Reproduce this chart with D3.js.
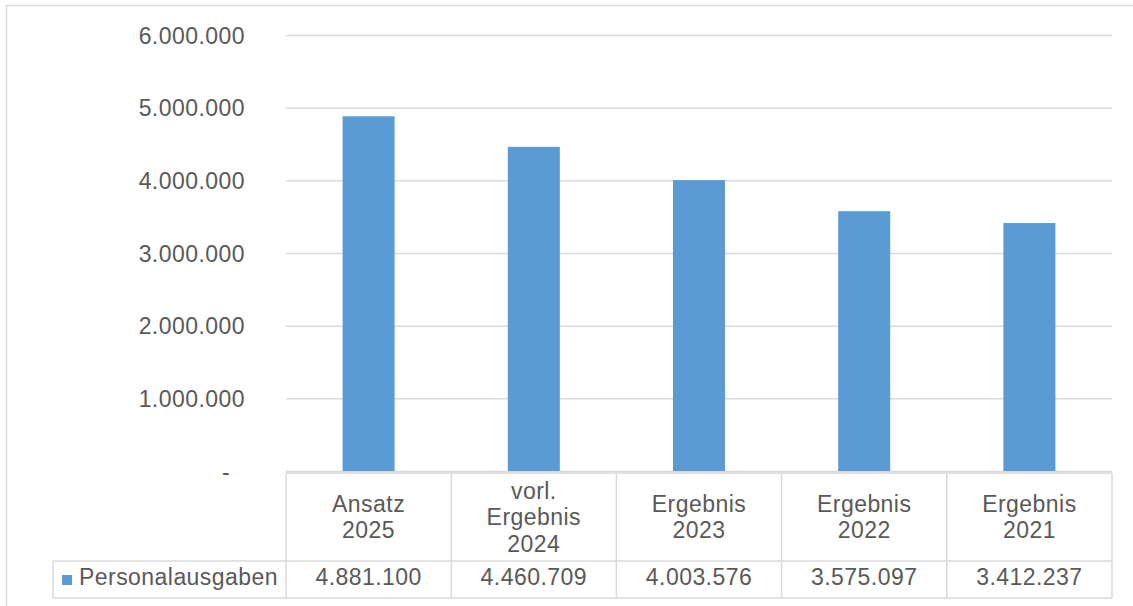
<!DOCTYPE html>
<html>
<head>
<meta charset="utf-8">
<script src="https://cdn.jsdelivr.net/npm/d3@7"></script>
<style>
  html, body { margin: 0; padding: 0; background: #fff; }
  svg { display: block; }
  text { font-family: "Liberation Sans", Arial, sans-serif; fill: #595959; letter-spacing: 0.45px; }
</style>
</head>
<body>
<script>
// Personalausgaben nach Haushaltsjahr
const categories = [
  ["Ansatz", "2025"],
  ["vorl.", "Ergebnis", "2024"],
  ["Ergebnis", "2023"],
  ["Ergebnis", "2022"],
  ["Ergebnis", "2021"]
];
const seriesName = "Personalausgaben";
const values = [4881100, 4460709, 4003576, 3575097, 3412237];
const yTicks = [0, 1000000, 2000000, 3000000, 4000000, 5000000, 6000000];

const W = 1133, H = 606;
const fontSize = 23;
const gridColor = "#d9d9d9";
const barColor = "#5b9bd5";

const de = d3.formatLocale({ decimal: ",", thousands: ".", grouping: [3], currency: ["", " €"] });
const fmt = de.format(",.0f");

const svg = d3.select("body").append("svg").attr("width", W).attr("height", H);

// outer chart frame
svg.append("rect")
  .attr("x", 6.5).attr("y", 5.5).attr("width", W + 10).attr("height", H + 10)
  .attr("fill", "none").attr("stroke", gridColor).attr("stroke-width", 1.5);

const plotLeft = 286, plotRight = 1112, plotTop = 35, plotBottom = 471;
const headerTop = 473, rowTop = 561, rowBottom = 598, legendLeft = 53;

const x = d3.scaleBand().domain(d3.range(categories.length)).range([plotLeft, plotRight]).padding(0);
const y = d3.scaleLinear().domain([0, 6000000]).range([plotBottom, plotTop]);

// value axis with gridlines
const yAxis = d3.axisLeft(y)
  .tickValues(yTicks)
  .tickSize(-(plotRight - plotLeft))
  .tickPadding(41)
  .tickFormat(d => d === 0 ? "-" : fmt(d));

const gAxis = svg.append("g").attr("transform", `translate(${plotLeft},0)`).call(yAxis);
gAxis.select(".domain").remove();
gAxis.selectAll(".tick line").attr("stroke", gridColor).attr("stroke-width", 1.5);
gAxis.selectAll(".tick text")
  .attr("font-size", fontSize)
  .attr("fill", "#595959")
  .attr("font-family", "Liberation Sans, Arial, sans-serif")
  .attr("dy", "0.35em")
  .attr("dx", d => d === 0 ? -15 : 0);

// bars
const barW = x.bandwidth() * 0.315;
svg.append("g").selectAll("rect")
  .data(values)
  .join("rect")
  .attr("x", (d, i) => x(i) + (x.bandwidth() - barW) / 2)
  .attr("y", d => y(d))
  .attr("width", barW)
  .attr("height", d => y(0) - y(d))
  .attr("fill", barColor);

// data table below the axis
const table = svg.append("g")
  .attr("fill", "none")
  .attr("stroke", gridColor)
  .attr("stroke-width", 1.5);

table.append("line").attr("x1", plotLeft).attr("x2", plotRight).attr("y1", headerTop).attr("y2", headerTop);
table.append("line").attr("x1", legendLeft).attr("x2", plotRight).attr("y1", rowTop).attr("y2", rowTop);
table.append("line").attr("x1", legendLeft).attr("x2", plotRight).attr("y1", rowBottom).attr("y2", rowBottom);
table.append("line").attr("x1", legendLeft).attr("x2", legendLeft).attr("y1", rowTop).attr("y2", rowBottom);
const bounds = x.domain().map(i => x(i)).concat([x.range()[1]]);
table.selectAll("line.v").data(bounds).join("line")
  .attr("class", "v")
  .attr("x1", d => d).attr("x2", d => d)
  .attr("y1", headerTop).attr("y2", rowBottom);

// category headers
const lineH = 26.5;
const headerMid = (headerTop + rowTop) / 2 + 8;
const headers = svg.append("g");
categories.forEach((lines, i) => {
  const t = headers.append("text")
    .attr("text-anchor", "middle")
    .attr("font-size", fontSize);
  lines.forEach((ln, k) => {
    t.append("tspan")
      .attr("x", x(i) + x.bandwidth() / 2)
      .attr("y", headerMid + (k - (lines.length - 1) / 2) * lineH)
      .text(ln);
  });
});

// series row: legend key, name and values
const rowBase = 585;
svg.append("rect")
  .attr("x", 62).attr("y", 575).attr("width", 10).attr("height", 10)
  .attr("fill", barColor);
svg.append("text")
  .attr("x", 79).attr("y", rowBase)
  .attr("font-size", fontSize)
  .text(seriesName);
svg.append("g").selectAll("text")
  .data(values)
  .join("text")
  .attr("x", (d, i) => x(i) + x.bandwidth() / 2)
  .attr("y", rowBase)
  .attr("text-anchor", "middle")
  .attr("font-size", fontSize)
  .text(d => fmt(d));
</script>
</body>
</html>
